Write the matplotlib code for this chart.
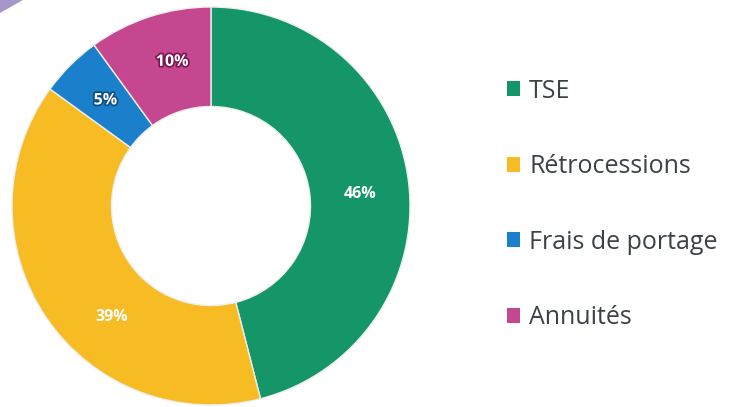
import numpy as np
import matplotlib.pyplot as plt
import matplotlib.patheffects as pe
from matplotlib.patches import Patch, Polygon

# data
labels = ['TSE', 'Rétrocessions', 'Frais de portage', 'Annuités']
shares = [46, 39, 5, 10]
pct_text = ['46%', '39%', '5%', '10%']
colors = ['#159669', '#f7bb24', '#1b80cc', '#c4478f']
outline = [None, None, '#0e4f86', '#7a1650']

plt.rcParams['font.family'] = ['Open Sans', 'DejaVu Sans']

W, H = 737, 407
fig = plt.figure(figsize=(W / 100, H / 100), dpi=100)
fig.patch.set_facecolor('white')

# small purple corner in the top-left
fig.patches.append(Polygon([(0, 1), (0, 1 - 13 / H), (23 / W, 1)],
                           closed=True, transform=fig.transFigure,
                           facecolor='#a597c8', edgecolor='none'))

ax = fig.add_axes([12 / W, 2 / H, 398 / W, 398 / H])
wedges, _ = ax.pie(shares, colors=colors, startangle=90, counterclock=False,
                   wedgeprops=dict(width=0.5, edgecolor='#eeeeee', linewidth=1.0))
ax.set_xlim(-1, 1)
ax.set_ylim(-1, 1)
ax.set_aspect('equal')

# percent labels inside the ring (small nudges to match the original placement)
nudge = {'46%': 2.5, '39%': -14, '10%': 3}
ang = 90.0
for s, t, oc in zip(shares, pct_text, outline):
    mid = ang - s * 3.6 / 2 - nudge.get(t, 0)
    ang -= s * 3.6
    r = 0.75
    txt = ax.text(r * np.cos(np.deg2rad(mid)), r * np.sin(np.deg2rad(mid)), t,
                  ha='center', va='center', color='white', fontsize=11.5,
                  fontweight='bold')
    if oc:
        txt.set_path_effects([pe.withStroke(linewidth=2.5, foreground=oc)])

handles = [Patch(facecolor=c, edgecolor='none', label=l) for c, l in zip(colors, labels)]
fig.legend(handles=handles, loc='upper left', bbox_to_anchor=(0.657, 0.862),
           frameon=False, fontsize=18, handlelength=0.55, handleheight=0.55,
           handletextpad=0.35, labelspacing=2.02, labelcolor='#3b4247')

fig.savefig('out.png', dpi=100, facecolor='white')
